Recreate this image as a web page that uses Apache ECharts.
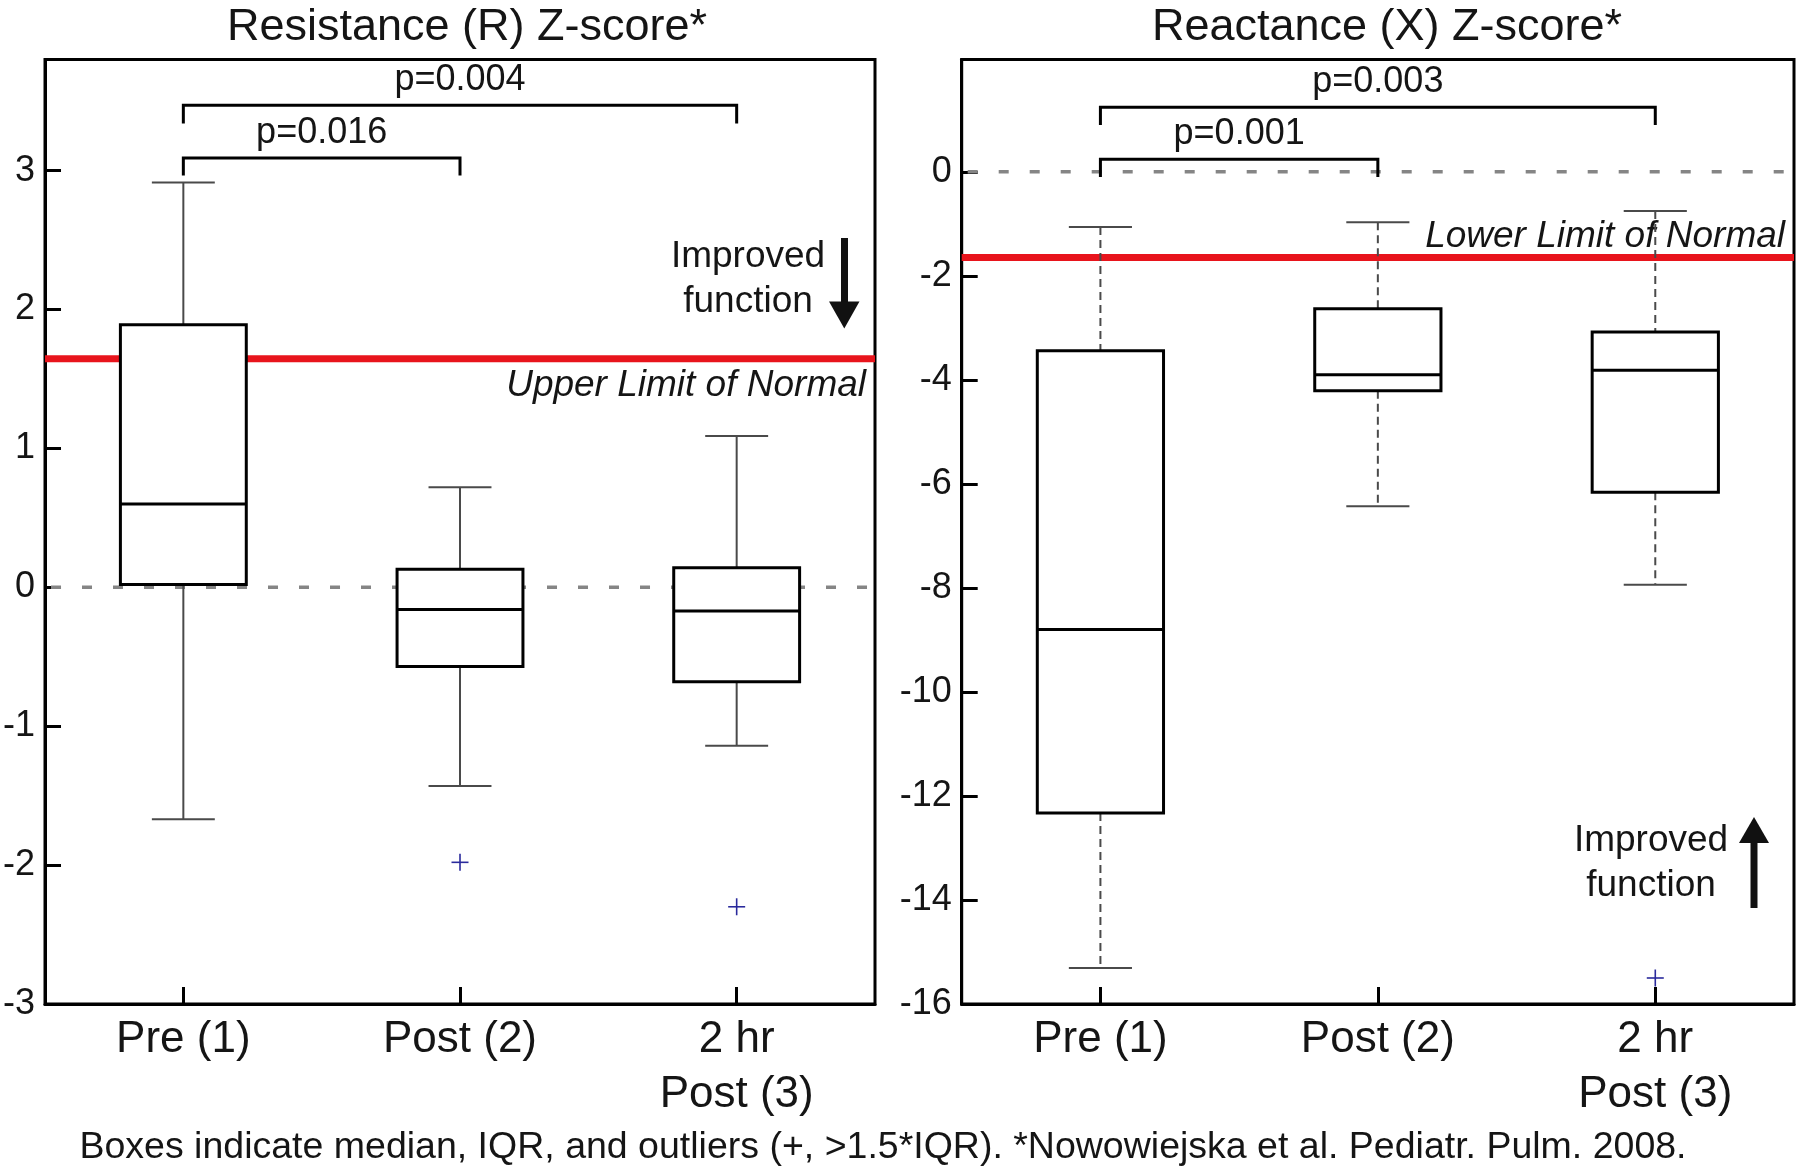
<!DOCTYPE html>
<html>
<head>
<meta charset="utf-8">
<script src="https://cdn.jsdelivr.net/npm/echarts@6/dist/echarts.min.js"></script>
<style>
html,body{margin:0;padding:0;background:#fff;}
#chart{width:1800px;height:1171px;}
</style>
</head>
<body>
<div id="chart"></div>
<script>
// ---------------- data ----------------
const categories = ['Pre (1)', 'Post (2)', '2 hr\nPost (3)'];
const panelTitles = ['Resistance (R) Z-score*', 'Reactance (X) Z-score*'];
// [lower whisker, Q1, median, Q3, upper whisker]
const resistanceStats = [
  [-1.67, 0.02, 0.60, 1.89, 2.915],
  [-1.43, -0.57, -0.16, 0.13, 0.72],
  [-1.14, -0.68, -0.17, 0.14, 1.09]
];
const reactanceStats = [
  [-15.31, -12.33, -8.80, -3.44, -1.06],
  [-6.43, -4.21, -3.90, -2.63, -0.97],
  [-7.94, -6.16, -3.815, -3.08, -0.755]
];
// [category index, value]
const resistanceOutliers = [[1, -1.98], [2, -2.30]];
const reactanceOutliers = [[2, -15.5]];
const resistanceTicks = [-3, -2, -1, 0, 1, 2, 3];
const reactanceTicks = [-16, -14, -12, -10, -8, -6, -4, -2, 0];
const upperLimitNormal = 1.645;
const lowerLimitNormal = -1.645;
// [from category, to category, bar value, tick end value]
const resistanceBrackets = [[0, 1, 3.09, 2.965], [0, 2, 3.47, 3.34]];
const resistancePValues = ['p=0.016', 'p=0.004'];
const reactanceBrackets = [[0, 1, 0.24, -0.10], [0, 2, 1.24, 0.90]];
const reactancePValues = ['p=0.001', 'p=0.003'];
const limitLabels = ['Upper Limit of Normal', 'Lower Limit of Normal'];
const directionLabel = 'Improved\nfunction';
const footnote = 'Boxes indicate median, IQR, and outliers (+, >1.5*IQR). *Nowowiejska et al. Pediatr. Pulm. 2008.';

// ---------------- rendering ----------------
const FONT = '"Liberation Sans", Arial, Helvetica, sans-serif';
const TXT = '#151515';
const chart = echarts.init(document.getElementById('chart'), null, {renderer: 'canvas'});

function boxRenderer(dashed) {
  return function (params, api) {
    const idx = api.value(0);
    const pLo = api.coord([idx, api.value(1)]);
    const pQ1 = api.coord([idx, api.value(2)]);
    const pMed = api.coord([idx, api.value(3)]);
    const pQ3 = api.coord([idx, api.value(4)]);
    const pHi = api.coord([idx, api.value(5)]);
    const band = api.size([1, 0])[0];
    const bw = band * 0.455, cw = bw * 0.5;
    const cx = pMed[0];
    const wStyle = {stroke: '#4a4a4a', lineWidth: 2, lineDash: dashed ? [8, 5] : null};
    const cStyle = {stroke: '#4a4a4a', lineWidth: 2};
    return {
      type: 'group',
      children: [
        {type: 'line', shape: {x1: cx, y1: pHi[1], x2: cx, y2: pQ3[1]}, style: wStyle},
        {type: 'line', shape: {x1: cx, y1: pQ1[1], x2: cx, y2: pLo[1]}, style: wStyle},
        {type: 'line', shape: {x1: cx - cw / 2, y1: pHi[1], x2: cx + cw / 2, y2: pHi[1]}, style: cStyle},
        {type: 'line', shape: {x1: cx - cw / 2, y1: pLo[1], x2: cx + cw / 2, y2: pLo[1]}, style: cStyle},
        {type: 'rect', shape: {x: cx - bw / 2, y: pQ3[1], width: bw, height: pQ1[1] - pQ3[1]},
          style: {fill: '#fff', stroke: '#000', lineWidth: 3}},
        {type: 'line', shape: {x1: cx - bw / 2, y1: pMed[1], x2: cx + bw / 2, y2: pMed[1]},
          style: {stroke: '#000', lineWidth: 3}}
      ]
    };
  };
}

function outlierRenderer(params, api) {
  const p = api.coord([api.value(0), api.value(1)]);
  const h = 8.5;
  const st = {stroke: '#2a2a9c', lineWidth: 1.6};
  return {
    type: 'group',
    children: [
      {type: 'line', shape: {x1: p[0] - h, y1: p[1], x2: p[0] + h, y2: p[1]}, style: st},
      {type: 'line', shape: {x1: p[0], y1: p[1] - h, x2: p[0], y2: p[1] + h}, style: st}
    ]
  };
}

function bracketRenderer(labels) {
  return function (params, api) {
    const a = api.value(0), b = api.value(1);
    const p1 = api.coord([a, api.value(2)]);
    const p2 = api.coord([b, api.value(2)]);
    const t1 = api.coord([a, api.value(3)]);
    return {
      type: 'group',
      children: [
        {type: 'polyline', shape: {points: [[p1[0], t1[1]], [p1[0], p1[1]], [p2[0], p2[1]], [p2[0], t1[1]]]},
          style: {stroke: '#000', lineWidth: 3, fill: null}},
        {type: 'text', style: {text: labels[params.dataIndex], x: (p1[0] + p2[0]) / 2, y: p1[1] - 25,
          align: 'center', verticalAlign: 'middle', fontSize: 36, fontFamily: FONT, fill: TXT}}
      ]
    };
  };
}

function limitRenderer(label, below) {
  return function (params, api) {
    const cs = params.coordSys;
    const y = api.coord([0, api.value(0)])[1];
    const fs = 37;
    const baseline = below ? y + 40 : y - 8;
    return {
      type: 'group',
      children: [
        {type: 'line', shape: {x1: cs.x, y1: y, x2: cs.x + cs.width, y2: y},
          style: {stroke: '#e8141c', lineWidth: 7}},
        {type: 'text', style: {text: label, x: cs.x + cs.width - 9, y: baseline - 0.3465 * fs,
          align: 'right', verticalAlign: 'middle', fontSize: fs, fontStyle: 'italic', fontFamily: FONT, fill: TXT}}
      ]
    };
  };
}

function zeroRenderer(params, api) {
  const cs = params.coordSys;
  const y = api.coord([0, api.value(0)])[1];
  return {type: 'line', shape: {x1: cs.x + 6, y1: y, x2: cs.x + cs.width, y2: y},
    style: {stroke: '#858585', lineWidth: 3.5, lineDash: [10, 21]}};
}

const grids = [
  {left: 42, top: 59.5, width: 833, height: 944.5},
  {left: 961.7, top: 59.5, width: 832.3, height: 944.5}
];
const yRanges = [[-3, 3.8, 1, resistanceTicks], [-16, 2.16, 2, reactanceTicks]];

const option = {
  backgroundColor: '#fff',
  animation: false,
  title: [
    {text: panelTitles[0], left: 467, top: 5, textAlign: 'center', padding: 0,
      textStyle: {fontSize: 45, fontWeight: 'normal', fontFamily: FONT, color: TXT, lineHeight: 45}},
    {text: panelTitles[1], left: 1387, top: 5, textAlign: 'center', padding: 0,
      textStyle: {fontSize: 45, fontWeight: 'normal', fontFamily: FONT, color: TXT, lineHeight: 45}},
    {text: footnote, left: 883, top: 1129, textAlign: 'center', padding: 0,
      textStyle: {fontSize: 37.5, fontWeight: 'normal', fontFamily: FONT, color: TXT, lineHeight: 37.5}}
  ],
  grid: grids.map(g => Object.assign({show: true, borderColor: '#000', borderWidth: 3, backgroundColor: 'transparent'}, g)),
  xAxis: [0, 1].map(i => ({
    type: 'category', gridIndex: i, data: categories, boundaryGap: true,
    axisLine: {show: true, onZero: false, lineStyle: {color: '#000', width: 3}},
    axisTick: {show: true, inside: true, length: 17, alignWithLabel: true, lineStyle: {color: '#000', width: 3}},
    axisLabel: {show: true, interval: 0, fontSize: 44, lineHeight: 55, margin: 8, color: TXT, fontFamily: FONT},
    splitLine: {show: false}
  })),
  yAxis: [0, 1].map(i => ({
    type: 'value', gridIndex: i, min: yRanges[i][0], max: yRanges[i][1], interval: yRanges[i][2],
    axisLine: {show: true, onZero: false, lineStyle: {color: '#000', width: 3}},
    axisTick: {show: true, inside: true, length: 16, customValues: yRanges[i][3], lineStyle: {color: '#000', width: 3}},
    axisLabel: {show: true, customValues: yRanges[i][3], fontSize: 36, margin: 10, color: TXT, fontFamily: FONT},
    splitLine: {show: false}
  })),
  series: [
    {type: 'custom', name: 'zeroR', xAxisIndex: 0, yAxisIndex: 0, z: 1, data: [[0]], renderItem: zeroRenderer},
    {type: 'custom', name: 'zeroX', xAxisIndex: 1, yAxisIndex: 1, z: 1, data: [[0]], renderItem: zeroRenderer},
    {type: 'custom', name: 'ULN', xAxisIndex: 0, yAxisIndex: 0, z: 2, data: [[upperLimitNormal]],
      renderItem: limitRenderer(limitLabels[0], true)},
    {type: 'custom', name: 'LLN', xAxisIndex: 1, yAxisIndex: 1, z: 2, data: [[lowerLimitNormal]],
      renderItem: limitRenderer(limitLabels[1], false)},
    {type: 'custom', name: 'Resistance', xAxisIndex: 0, yAxisIndex: 0, z: 3,
      data: resistanceStats.map((s, i) => [i].concat(s)), renderItem: boxRenderer(false)},
    {type: 'custom', name: 'Reactance', xAxisIndex: 1, yAxisIndex: 1, z: 3,
      data: reactanceStats.map((s, i) => [i].concat(s)), renderItem: boxRenderer(true)},
    {type: 'custom', name: 'R outliers', xAxisIndex: 0, yAxisIndex: 0, z: 4,
      data: resistanceOutliers, renderItem: outlierRenderer},
    {type: 'custom', name: 'X outliers', xAxisIndex: 1, yAxisIndex: 1, z: 4,
      data: reactanceOutliers, renderItem: outlierRenderer},
    {type: 'custom', name: 'R brackets', xAxisIndex: 0, yAxisIndex: 0, z: 4,
      data: resistanceBrackets, renderItem: bracketRenderer(resistancePValues)},
    {type: 'custom', name: 'X brackets', xAxisIndex: 1, yAxisIndex: 1, z: 4,
      data: reactanceBrackets, renderItem: bracketRenderer(reactancePValues)}
  ],
  graphic: [
    {type: 'text', x: 748, y: 279.7, z: 10,
      style: {text: directionLabel, align: 'center', verticalAlign: 'middle', fontSize: 37, lineHeight: 45, fontFamily: FONT, fill: TXT}},
    {type: 'rect', z: 10, shape: {x: 841, y: 238, width: 7, height: 66}, style: {fill: '#111'}},
    {type: 'polygon', z: 10, shape: {points: [[829, 301.5], [859.5, 301.5], [844.3, 328.5]]}, style: {fill: '#111'}},
    {type: 'text', x: 1651, y: 863, z: 10,
      style: {text: directionLabel, align: 'center', verticalAlign: 'middle', fontSize: 37, lineHeight: 45, fontFamily: FONT, fill: TXT}},
    {type: 'rect', z: 10, shape: {x: 1750.5, y: 840, width: 7, height: 68}, style: {fill: '#111'}},
    {type: 'polygon', z: 10, shape: {points: [[1739, 843], [1769, 843], [1754, 817]]}, style: {fill: '#111'}}
  ]
};
chart.setOption(option);
</script>
</body>
</html>
